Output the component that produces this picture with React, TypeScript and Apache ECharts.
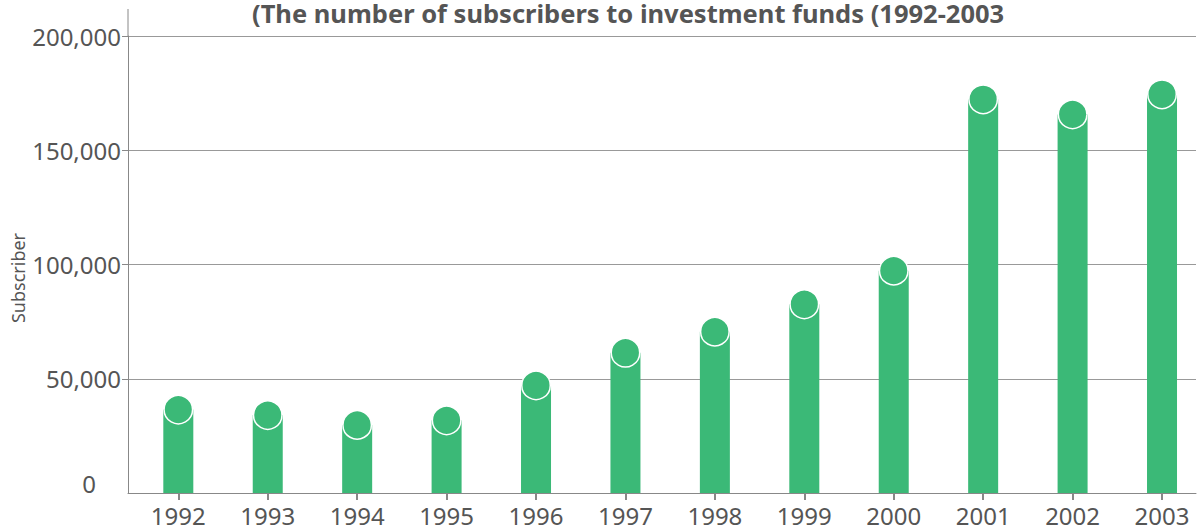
import React, { useEffect, useRef } from "react";
import * as echarts from "echarts";

const years = ["1992", "1993", "1994", "1995", "1996", "1997", "1998", "1999", "2000", "2001", "2002", "2003"];
const subscribers = [36500, 34100, 29800, 31800, 47100, 61400, 70600, 82600, 97300, 172300, 165700, 174500];
const yTicks = [0, 50000, 100000, 150000, 200000];
const titleText = "(The number of subscribers to investment funds (1992-2003";
const yName = "Subscriber";

const FONT = "'Noto Sans', sans-serif";
const GREEN = "#3BB977";
const TEXT = "#555555";
const LINE = "#999999";

export default function App() {
  const ref = useRef<HTMLDivElement>(null);
  useEffect(() => {
    if (!ref.current) return;
    const chart = echarts.init(ref.current, undefined, { renderer: "svg" });
    const fmt = (v: number) => (v === 0 ? "{z|0}" : v.toLocaleString("en-US"));
    const idx = years.map((_, i) => i);
    const pts = subscribers.map((v, i) => [i, v]);
    chart.setOption({
      animation: false,
      textStyle: { fontFamily: FONT },
      title: {
        text: titleText,
        left: 252,
        top: 0,
        padding: 0,
        textStyle: { fontFamily: FONT, fontSize: 25.5, fontWeight: "bold", color: TEXT },
      },
      graphic: [
        {
          type: "line",
          shape: { x1: 128, y1: 9, x2: 128, y2: 36 },
          style: { stroke: "#888", lineWidth: 1 },
        },
        {
          type: "text",
          x: 18,
          y: 278,
          rotation: Math.PI / 2,
          style: {
            text: yName,
            align: "center",
            verticalAlign: "middle",
            fontSize: 18,
            fontFamily: FONT,
            fill: TEXT,
          },
        },
      ],
      grid: [{ left: 128, right: 6, top: 36, bottom: 39 }],
      xAxis: [
        {
          type: "value",
          min: -0.5626,
          max: 11.38,
          axisLine: { show: true, onZero: false, lineStyle: { color: "#888", width: 1 } },
          axisTick: { show: true, customValues: idx, length: 7, lineStyle: { color: "#888", width: 2 } },
          axisLabel: {
            customValues: idx,
            formatter: (v: number) => years[Math.round(v)] ?? "",
            fontSize: 24,
            color: TEXT,
            margin: 10,
            fontFamily: FONT,
          },
          splitLine: { show: false },
        },
      ],
      yAxis: [
        {
          type: "value",
          min: yTicks[0],
          max: yTicks[yTicks.length - 1],
          interval: yTicks[1] - yTicks[0],
          axisLine: { show: true, onZero: false, lineStyle: { color: "#888", width: 1 } },
          axisTick: { show: true, customValues: yTicks.slice(1), length: 6, lineStyle: { color: "#888", width: 1 } },
          axisLabel: {
            fontSize: 24,
            color: TEXT,
            margin: 7,
            formatter: fmt,
            fontFamily: FONT,
            rich: {
              z: { fontSize: 24, color: TEXT, fontFamily: FONT, padding: [0, 25, 20, 0] },
            },
          },
          splitLine: { show: true, lineStyle: { color: LINE, width: 1 } },
        },
      ],
      series: [
        {
          type: "bar",
          data: pts,
          barWidth: 30,
          itemStyle: { color: GREEN },
          z: 2,
        },
        {
          type: "scatter",
          data: pts,
          symbol: "circle",
          symbolSize: 28.5,
          itemStyle: { color: GREEN, borderColor: "#ffffff", borderWidth: 1.5, opacity: 1 },
          z: 3,
        },
      ],
    });
    return () => chart.dispose();
  }, []);
  return <div ref={ref} style={{ width: 1202, height: 532, position: "absolute", left: 0, top: 0 }} />;
}
